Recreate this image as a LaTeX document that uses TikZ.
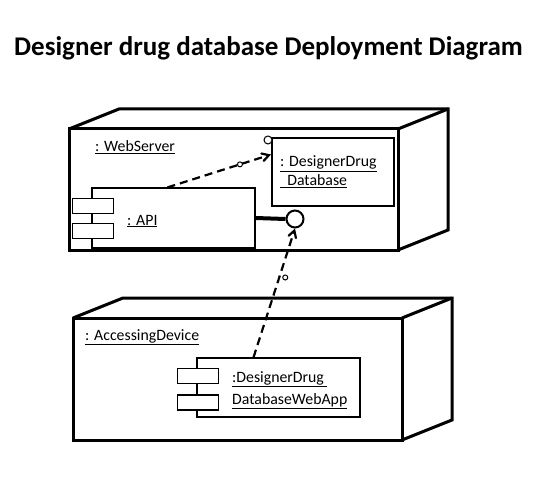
\documentclass[tikz,border=0pt]{standalone}
\usepackage{fontspec}
\setmainfont{Carlito}
\usetikzlibrary{arrows,positioning,calc}

\begin{document}
\begin{tikzpicture}[x=1pt,y=-1pt,>=angle 60,
  devbox/.style={draw,line width=3pt,outer sep=0pt,minimum width=329pt},
  cubeline/.style={line width=3pt},
  compbox/.style={draw,line width=1.2pt,minimum width=163pt,minimum height=60pt},
  plug/.style={draw,fill=white,line width=1.2pt,minimum width=41pt,minimum height=15pt},
  lbl/.style={anchor=west,inner sep=0pt,font=\fontsize{15.8}{20}\selectfont,align=left},
  depend/.style={->,line width=2.2pt,dash pattern=on 8pt off 5pt},
  ring/.style={circle,draw,solid,fill=white,line width=1pt,inner sep=0pt,minimum size=5pt}]
  \useasboundingbox (0,0) rectangle (537,478);

  \node (title) at (268.5,48) {\fontsize{27}{30}\selectfont\bfseries Designer drug database Deployment Diagram};

  % web server node
  \node (web) [devbox, minimum height=121pt] at (233.5,189.5) {};
  \draw[cubeline] (web.north west) -- ++(50,-20) -- ++(329,0) -- ++(0,121) -- (web.south east);
  \draw[cubeline] (web.north east) -- ++(50,-20);
  \node (webname) [lbl] at (95,147) {\underline{: WebServer}};

  \node (api) [compbox] at (173.5,218) {};
  \node (apiplugA) [plug] at ($(api.west)+(1.5,-12)$) {};
  \node (apiplugB) [plug] at ($(api.west)+(1.5,13)$) {};
  \node (apiname) [lbl] at (127,221) {\underline{: API}};

  \node (db) [draw, line width=2pt, minimum width=122pt, minimum height=68pt] at (333,172) {};
  \node (dbname) [lbl, font=\fontsize{15.8}{19}\selectfont] at (280,172) {\underline{: DesignerDrug}\\\underline{\ \ Database}};
  \node (port) [ring, minimum size=8pt] at (268,140) {};

  \node (iface) [circle, draw, fill=white, line width=2pt, minimum size=17pt, inner sep=0pt] at (295,219) {};
  \draw[line width=4pt] (api.east) -- (iface.west);

  % accessing device node
  \node (dev) [devbox, minimum height=122pt] at (237.5,379) {};
  \draw[cubeline] (dev.north west) -- ++(50,-20) -- ++(329,0) -- ++(0,122) -- (dev.south east);
  \draw[cubeline] (dev.north east) -- ++(50,-20);
  \node (devname) [lbl] at (85,337) {\underline{: AccessingDevice}};

  \node (app) [compbox, minimum height=59pt] at (278.5,387.5) {};
  \node (appplugA) [plug] at ($(app.west)+(1.5,-11.5)$) {};
  \node (appplugB) [plug] at ($(app.west)+(1.5,15)$) {};
  \node (appname) [lbl] at (232,390) {\underline{:DesignerDrug\ }\\[2pt]\underline{DatabaseWebApp}};

  % dependencies
  \draw[depend] ($(api.north)+(-6,0)$) -- ($(db.north west)!0.25!(db.south west)$)
    node[ring, pos=0.7] (markA) {};
  \draw[depend] ($(app.north)+(-25,0)$) -- (iface.south)
    node[ring, pos=0.62, xshift=6pt] (markB) {};
\end{tikzpicture}
\end{document}
